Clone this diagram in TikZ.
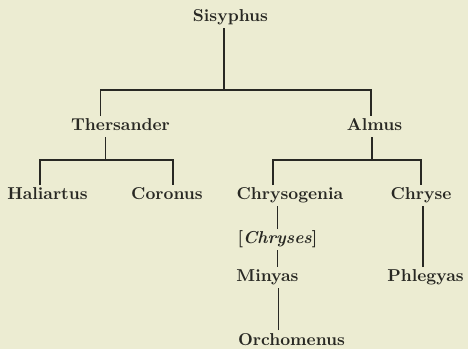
\documentclass[tikz,border=0pt]{standalone}
\usepackage{tikz}
\usetikzlibrary{positioning,calc}

\definecolor{paper}{RGB}{236,236,210}
\definecolor{ink}{RGB}{40,40,35}

\tikzset{
  person/.style={anchor=base, inner sep=1.5pt, text height=7.3pt, text depth=2pt,
    font=\fontsize{10.5}{12}\selectfont\bfseries, text=ink},
  link/.style={draw=ink, line width=1.2pt}
}

\begin{document}
\begin{tikzpicture}[x=0.61pt, y=-0.61pt]
  % background
  \fill[paper] (0,0) rectangle (468,349);
  \useasboundingbox (0,0) rectangle (468,349);

  % Generations
  \node[person] (sisyphus) at (230.5, 22) {Sisyphus};

  \node[person] (thersander) at (120.5, 131) {Thersander};
  \node[person] (almus) at (374.5, 131) {Almus};

  \node[person] (haliartus) at (47.5, 200) {Haliartus};
  \node[person] (coronus) at (167, 200) {Coronus};
  \node[person] (chrysogenia) at (290, 200) {Chrysogenia};
  \node[person] (chryse) at (421, 200) {Chryse};

  \node[person] (chryses) at (277.5, 244) {[\textit{Chryses}]};
  \node[person] (minyas) at (267.5, 282) {Minyas};
  \node[person] (phlegyas) at (425.5, 282) {Phlegyas};
  \node[person] (orchomenus) at (291.5, 345) {Orchomenus};

  % Sisyphus to his sons
  \draw[link] ($(sisyphus.south)+(-6.5,0)$) -- ++(0,62) coordinate (sbar);
  \draw[link] ($(thersander.north)+(-20,0)$) |- (sbar) -| ($(almus.north)+(-3.5,0)$);

  % Thersander
  \draw[link] ($(thersander.south)+(-15,0)$) -- ++(0,23) coordinate (tbar);
  \draw[link] ($(haliartus.north)+(-7.5,0)$) |- (tbar) -| ($(coronus.north)+(6,0)$);

  % Almus
  \draw[link] ($(almus.south)+(-2.5,0)$) -- ++(0,23) coordinate (abar);
  \draw[link] ($(chrysogenia.north)+(-17,0)$) |- (abar) -| (chryse.north);

  % line of Chrysogenia
  \draw[link] (chryses.north) -- (chryses.north |- chrysogenia.south);
  \draw[link] (chryses.south) -- (chryses.south |- minyas.north);
  \draw[link] ($(orchomenus.north)+(-13,0)$) coordinate (o1) -- (o1 |- minyas.south);

  % Chryse
  \draw[link] ($(phlegyas.north)+(-2.5,0)$) coordinate (p1) -- (p1 |- chryse.south);
\end{tikzpicture}
\end{document}
